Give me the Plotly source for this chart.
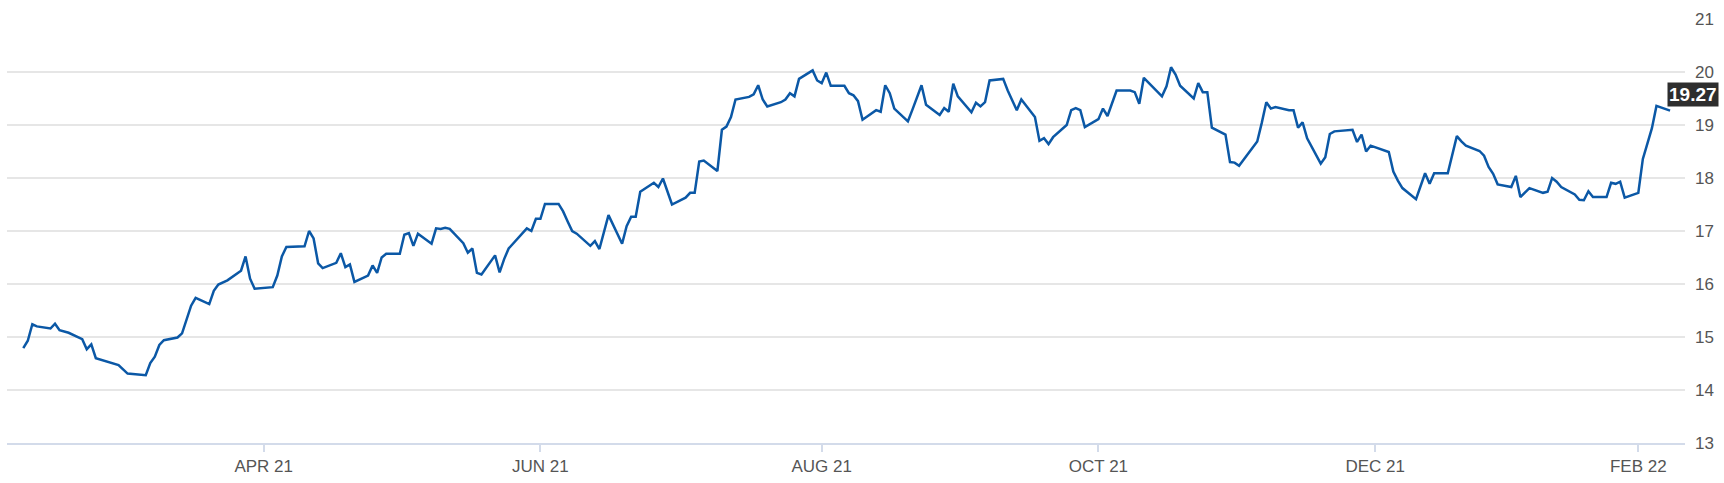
import plotly.graph_objects as go

# closing prices, one point per trading day shown in the chart
dates = [
    "2021-02-09", "2021-02-10", "2021-02-11", "2021-02-12", "2021-02-15", "2021-02-16",
    "2021-02-17", "2021-02-19", "2021-02-22", "2021-02-23", "2021-02-24", "2021-02-25",
    "2021-03-02", "2021-03-04", "2021-03-08", "2021-03-09", "2021-03-10", "2021-03-11",
    "2021-03-12", "2021-03-15", "2021-03-16", "2021-03-18", "2021-03-19", "2021-03-22",
    "2021-03-23", "2021-03-24", "2021-03-26", "2021-03-29", "2021-03-30", "2021-03-31",
    "2021-04-01", "2021-04-05", "2021-04-06", "2021-04-07", "2021-04-08", "2021-04-12",
    "2021-04-13", "2021-04-14", "2021-04-15", "2021-04-16", "2021-04-19", "2021-04-20",
    "2021-04-21", "2021-04-22", "2021-04-23", "2021-04-26", "2021-04-27", "2021-04-28",
    "2021-04-29", "2021-04-30", "2021-05-03", "2021-05-04", "2021-05-05", "2021-05-06",
    "2021-05-07", "2021-05-10", "2021-05-11", "2021-05-12", "2021-05-13", "2021-05-14",
    "2021-05-17", "2021-05-18", "2021-05-19", "2021-05-20", "2021-05-21", "2021-05-24",
    "2021-05-25", "2021-05-26", "2021-05-27", "2021-05-31", "2021-06-01", "2021-06-02",
    "2021-06-03", "2021-06-04", "2021-06-07", "2021-06-08", "2021-06-09", "2021-06-10",
    "2021-06-11", "2021-06-14", "2021-06-15", "2021-06-16", "2021-06-18", "2021-06-21",
    "2021-06-22", "2021-06-23", "2021-06-24", "2021-06-25", "2021-06-28", "2021-06-29",
    "2021-06-30", "2021-07-01", "2021-07-02", "2021-07-05", "2021-07-06", "2021-07-07",
    "2021-07-08", "2021-07-09", "2021-07-12", "2021-07-13", "2021-07-14", "2021-07-15",
    "2021-07-16", "2021-07-19", "2021-07-20", "2021-07-21", "2021-07-22", "2021-07-23",
    "2021-07-26", "2021-07-27", "2021-07-28", "2021-07-29", "2021-07-30", "2021-08-02",
    "2021-08-03", "2021-08-04", "2021-08-05", "2021-08-06", "2021-08-09", "2021-08-10",
    "2021-08-11", "2021-08-12", "2021-08-13", "2021-08-16", "2021-08-17", "2021-08-18",
    "2021-08-19", "2021-08-20", "2021-08-23", "2021-08-24", "2021-08-26", "2021-08-27",
    "2021-08-30", "2021-08-31", "2021-09-01", "2021-09-02", "2021-09-03", "2021-09-06",
    "2021-09-07", "2021-09-08", "2021-09-09", "2021-09-10", "2021-09-13", "2021-09-14",
    "2021-09-16", "2021-09-17", "2021-09-20", "2021-09-21", "2021-09-22", "2021-09-23",
    "2021-09-24", "2021-09-27", "2021-09-28", "2021-09-29", "2021-09-30", "2021-10-01",
    "2021-10-04", "2021-10-05", "2021-10-06", "2021-10-08", "2021-10-11", "2021-10-12",
    "2021-10-13", "2021-10-14", "2021-10-18", "2021-10-19", "2021-10-20", "2021-10-21",
    "2021-10-22", "2021-10-25", "2021-10-26", "2021-10-27", "2021-10-28", "2021-10-29",
    "2021-11-01", "2021-11-02", "2021-11-03", "2021-11-04", "2021-11-08", "2021-11-09",
    "2021-11-10", "2021-11-11", "2021-11-12", "2021-11-15", "2021-11-16", "2021-11-17",
    "2021-11-18", "2021-11-19", "2021-11-22", "2021-11-23", "2021-11-24", "2021-11-25",
    "2021-11-29", "2021-11-30", "2021-12-01", "2021-12-02", "2021-12-03", "2021-12-07",
    "2021-12-08", "2021-12-09", "2021-12-10", "2021-12-13", "2021-12-14", "2021-12-15",
    "2021-12-16", "2021-12-17", "2021-12-20", "2021-12-22", "2021-12-23", "2021-12-24",
    "2021-12-27", "2021-12-28", "2021-12-29", "2021-12-30", "2021-12-31", "2022-01-03",
    "2022-01-04", "2022-01-05", "2022-01-07", "2022-01-10", "2022-01-11", "2022-01-12",
    "2022-01-13", "2022-01-14", "2022-01-17", "2022-01-18", "2022-01-19", "2022-01-20",
    "2022-01-21", "2022-01-24", "2022-01-25", "2022-01-26", "2022-01-27", "2022-01-28",
    "2022-01-31", "2022-02-01", "2022-02-02", "2022-02-03", "2022-02-04", "2022-02-07",
]

prices = [
    14.79, 14.93, 15.24, 15.20, 15.16, 15.25,
    15.13, 15.08, 14.96, 14.77, 14.86, 14.60,
    14.47, 14.31, 14.28, 14.51, 14.63, 14.85,
    14.94, 14.99, 15.07, 15.59, 15.74, 15.62,
    15.87, 15.99, 16.07, 16.25, 16.52, 16.10,
    15.91, 15.94, 16.16, 16.52, 16.70, 16.71,
    17.00, 16.86, 16.39, 16.30, 16.40, 16.58,
    16.32, 16.37, 16.04, 16.16, 16.35, 16.21,
    16.50, 16.57, 16.57, 16.93, 16.96, 16.72,
    16.95, 16.76, 17.05, 17.04, 17.06, 17.04,
    16.77, 16.59, 16.67, 16.21, 16.18, 16.54,
    16.22, 16.47, 16.67, 17.05, 17.00, 17.23,
    17.23, 17.51, 17.51, 17.37, 17.18, 17.00,
    16.95, 16.72, 16.81, 16.66, 17.30, 16.76,
    17.09, 17.27, 17.27, 17.74, 17.91, 17.83,
    17.99, 17.76, 17.50, 17.63, 17.72, 17.72,
    18.31, 18.33, 18.13, 18.91, 18.97, 19.15,
    19.48, 19.53, 19.58, 19.75, 19.48, 19.35,
    19.43, 19.48, 19.60, 19.54, 19.87, 20.03,
    19.84, 19.79, 19.99, 19.74, 19.74, 19.60,
    19.56, 19.45, 19.10, 19.28, 19.25, 19.75,
    19.60, 19.31, 19.07, 19.29, 19.75, 19.38,
    19.19, 19.32, 19.25, 19.78, 19.54, 19.24,
    19.42, 19.35, 19.43, 19.84, 19.87, 19.65,
    19.28, 19.48, 19.15, 18.70, 18.75, 18.64,
    18.77, 19.00, 19.28, 19.32, 19.28, 18.96,
    19.11, 19.31, 19.17, 19.65, 19.65, 19.62,
    19.40, 19.89, 19.54, 19.73, 20.09, 19.95,
    19.74, 19.50, 19.79, 19.62, 19.62, 18.95,
    18.82, 18.30, 18.29, 18.23, 18.69, 19.04,
    19.43, 19.31, 19.34, 19.28, 19.28, 18.95,
    19.05, 18.75, 18.27, 18.39, 18.83, 18.88,
    18.91, 18.68, 18.82, 18.50, 18.61, 18.49,
    18.12, 17.95, 17.81, 17.60, 17.84, 18.09,
    17.89, 18.09, 18.09, 18.79, 18.69, 18.61,
    18.51, 18.42, 18.21, 18.08, 17.88, 17.83,
    18.04, 17.64, 17.81, 17.72, 17.74, 18.00,
    17.93, 17.83, 17.69, 17.59, 17.58, 17.75,
    17.64, 17.64, 17.91, 17.89, 17.93, 17.63,
    17.72, 18.36, 18.65, 18.94, 19.36, 19.27,
]

tick_dates = ["2021-04-03", "2021-06-03", "2021-08-04", "2021-10-04", "2021-12-04", "2022-01-31"]
tick_labels = ["APR 21", "JUN 21", "AUG 21", "OCT 21", "DEC 21", "FEB 22"]

y_ticks = [13, 14, 15, 16, 17, 18, 19, 20, 21]

label_font = dict(family="Liberation Sans Narrow, Arial Narrow, Liberation Sans, Arial, sans-serif",
                  size=17, color="#555555")

fig = go.Figure()
fig.add_trace(go.Scatter(
    x=dates,
    y=prices,
    mode="lines",
    line=dict(color="#0b58a6", width=2.5),
    hovertemplate="%{x|%b %d, %Y}<br>%{y:.2f}<extra></extra>",
))

# last value badge
fig.add_annotation(
    x=dates[-1], y=prices[-1],
    text="<b>{:.2f}</b>".format(prices[-1]),
    showarrow=False,
    xanchor="left", yanchor="bottom",
    xshift=-3, yshift=4,
    bgcolor="#2e2e2e",
    borderpad=1,
    font=dict(family="Liberation Sans, Arial, sans-serif", size=19, color="#ffffff"),
)

fig.update_xaxes(
    type="date",
    range=["2021-02-05 10:00", "2022-02-10 07:00"],
    tickvals=tick_dates,
    ticktext=tick_labels,
    ticks="outside",
    ticklen=7,
    tickwidth=1.5,
    tickcolor="#d3dbea",
    showgrid=False,
    showline=True,
    linecolor="#d3dbea",
    linewidth=1.5,
    zeroline=False,
    tickfont=label_font,
)
fig.update_yaxes(
    side="right",
    range=[13, 21],
    tickvals=y_ticks,
    showgrid=True,
    gridcolor="#e6e6e6",
    gridwidth=1.5,
    zeroline=False,
    ticks="",
    ticklabelstandoff=9,
    tickfont=label_font,
)
fig.update_layout(
    width=1724,
    height=483,
    margin=dict(l=7, r=39, t=19, b=37, pad=0),
    paper_bgcolor="#ffffff",
    plot_bgcolor="#ffffff",
    showlegend=False,
)

# drop the default page margin so the figure sits at the window's corner
fig.write_html("out.html",
               config={"displayModeBar": False},
               post_script="document.body.style.margin = '0';")
